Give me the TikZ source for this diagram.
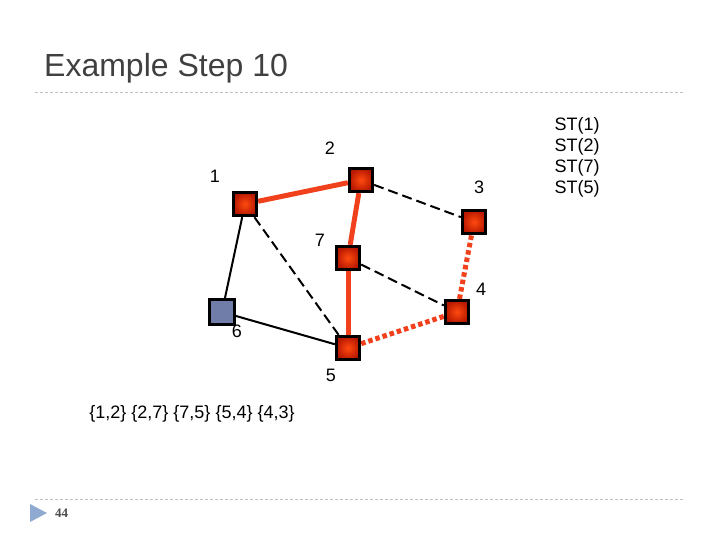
\documentclass[tikz,border=0pt]{standalone}
\usepackage{fontspec}
\setmainfont{Liberation Sans}
\newfontfamily\serifnum{Liberation Serif}
\definecolor{tred}{HTML}{F0401C}
\definecolor{nin}{HTML}{FF4A10}
\definecolor{nout}{HTML}{B81800}
\definecolor{bluebox}{HTML}{6F7DA8}
\definecolor{rulegray}{HTML}{BFBFBF}
\definecolor{tri}{HTML}{8FAAD0}
\begin{document}
\begin{tikzpicture}[x=1pt,y=-1pt,
  rednode/.style={draw=black,line width=2.8pt,minimum size=23.5pt,inner sep=0pt,shading=radial,inner color=nin,outer color=nout},
  bluenode/.style={draw=black,line width=2.8pt,minimum size=24.5pt,inner sep=0pt,fill=bluebox},
  lbl/.style={font=\fontsize{18}{21}\selectfont,inner sep=0pt},
  tree/.style={tred,line width=5pt},
  cand/.style={tred,line width=5pt,dash pattern=on 4.5pt off 3pt},
  other/.style={black,line width=2pt,dash pattern=on 10pt off 5pt},
  plain/.style={black,line width=2pt},
  rule/.style={rulegray,line width=0.8pt,dash pattern=on 3pt off 2pt}]
\useasboundingbox (0,0) rectangle (720,540);
\node[anchor=west,inner sep=0pt,font=\fontsize{32}{36}\selectfont,text=black!75] (title) at (44,68) {Example Step 10};
\draw[rule] (35,92) coordinate (ra) -- (685,92) coordinate (rb);
\draw[rule] (35,499) coordinate (rc) -- (685,499) coordinate (rd);
\fill[tri] (30,504) -- (47,513) -- (30,522) -- cycle;
\node[anchor=west,inner sep=0pt,font=\serifnum\bfseries\fontsize{13}{15}\selectfont,text=black!70] (pg) at (55,513) {44};
% nodes
\node[rednode] (n1) at (245,204) {};
\node[rednode] (n2) at (361,180) {};
\node[rednode] (n3) at (474,222) {};
\node[rednode] (n7) at (348,258) {};
\node[rednode] (n4) at (457,312) {};
\node[bluenode] (n6) at (222,312) {};
\node[rednode] (n5) at (348,348) {};
% edges
\draw[plain] (n1) -- (n6);
\draw[plain] (n6) -- (n5);
\draw[other] (n1) -- (n5);
\draw[other] (n2) -- (n3);
\draw[other] (n7) -- (n4);
\draw[tree] (n1) -- (n2);
\draw[tree] (n2) -- (n7);
\draw[tree] (n7) -- (n5);
\draw[cand] (n5) -- (n4);
\draw[cand] (n4) -- (n3);
% redraw nodes on top
\node[rednode] at (n1) {};
\node[rednode] at (n2) {};
\node[rednode] at (n3) {};
\node[rednode] at (n7) {};
\node[rednode] at (n4) {};
\node[bluenode] at (n6) {};
\node[rednode] at (n5) {};
% labels
\node[lbl] (l1) at (215,176) {1};
\node[lbl] (l2) at (330,148) {2};
\node[lbl] (l3) at (479,187) {3};
\node[lbl] (l7) at (320,240) {7};
\node[lbl] (l4) at (481,289) {4};
\node[lbl] (l6) at (237,331) {6};
\node[lbl] (l5) at (331,375) {5};
\node[lbl] (edges) at (192,414) {\{1,2\} \{2,7\} \{7,5\} \{5,4\} \{4,3\}};
\node[lbl,align=center] (st) at (577,157) {ST(1)\\ST(2)\\ST(7)\\ST(5)};
\end{tikzpicture}
\end{document}
